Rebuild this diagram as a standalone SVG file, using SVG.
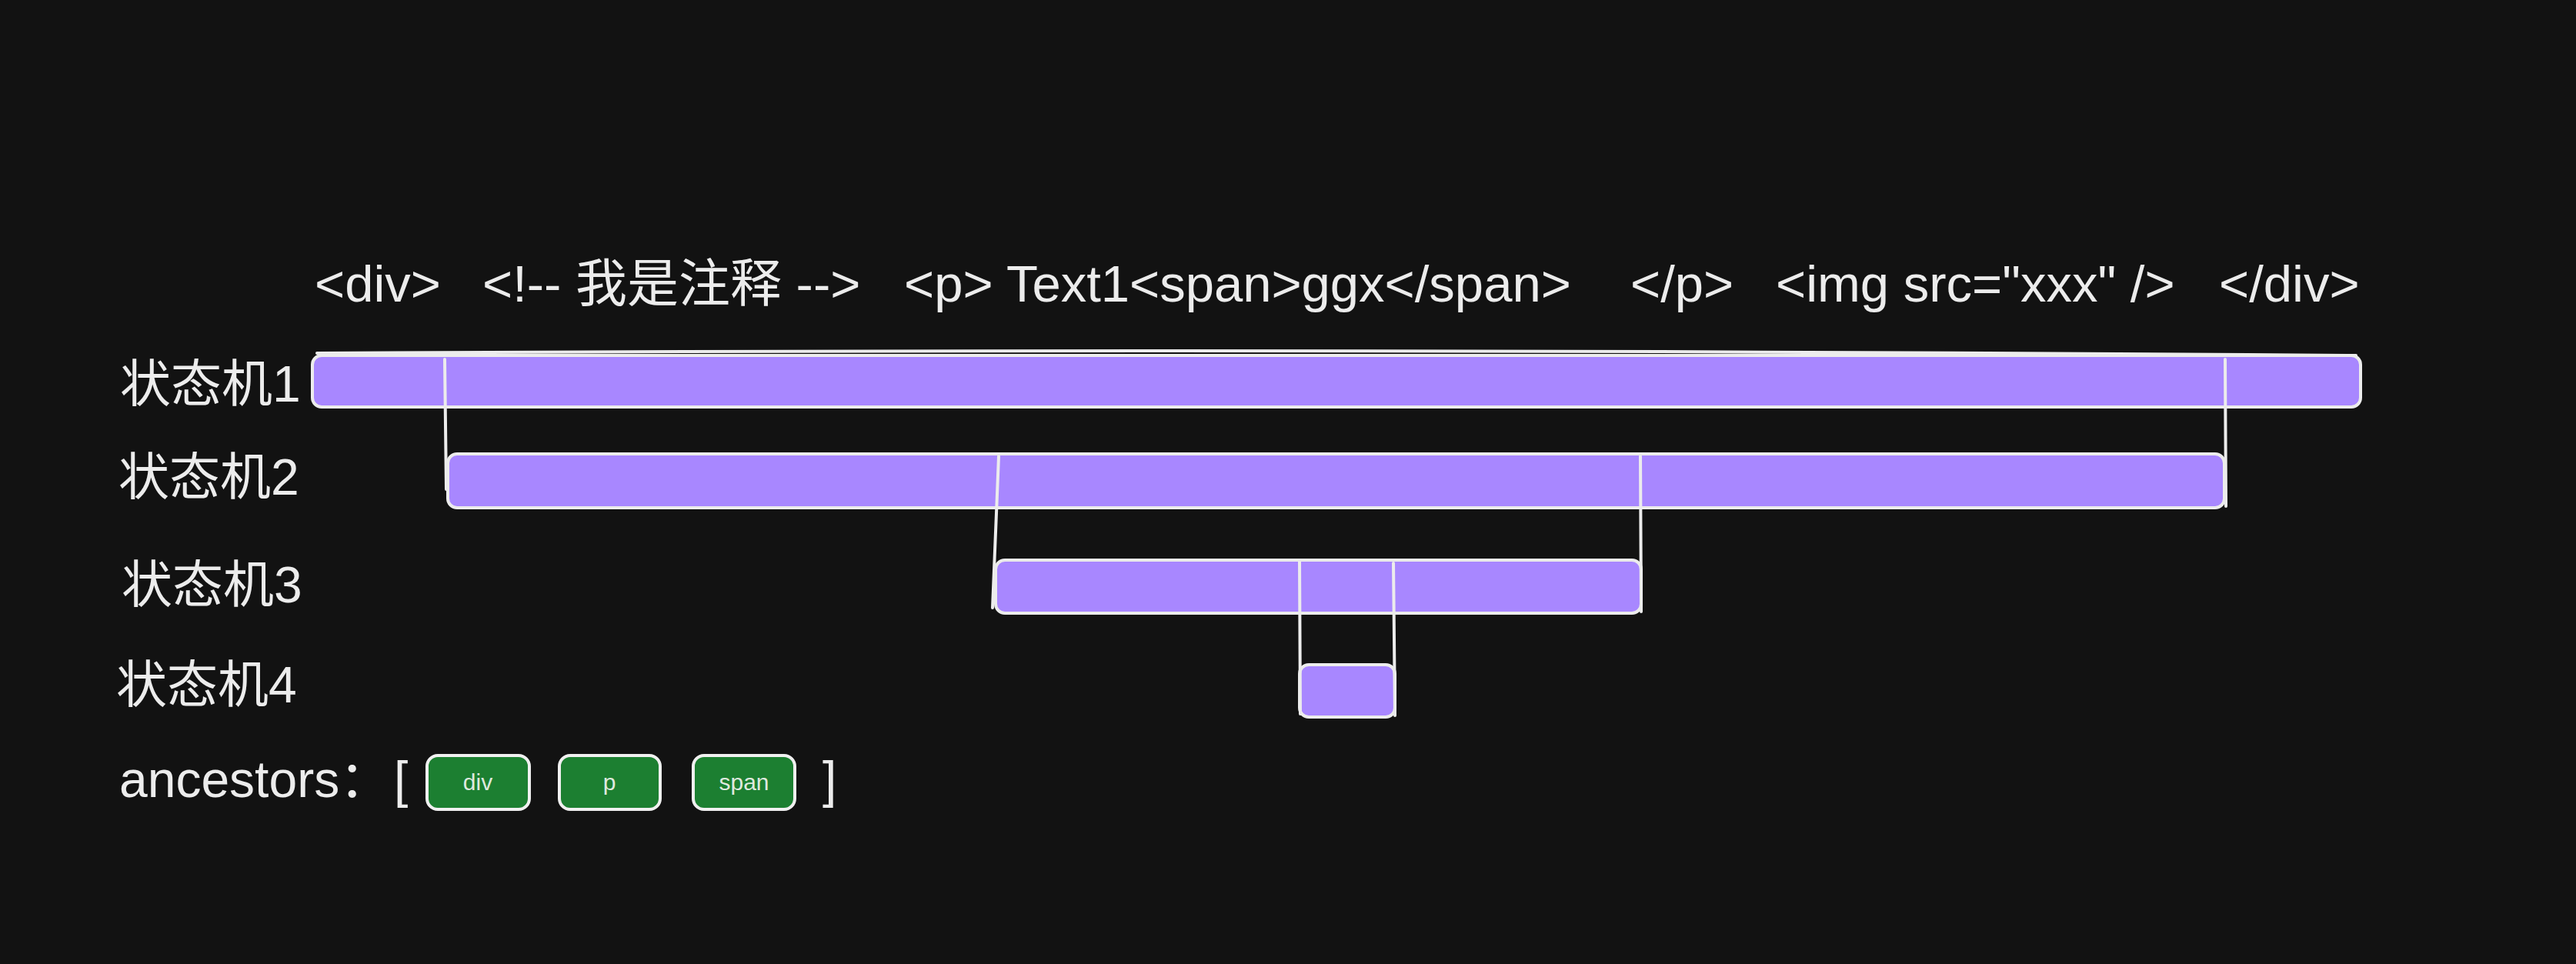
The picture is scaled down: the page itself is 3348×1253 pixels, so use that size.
<svg xmlns="http://www.w3.org/2000/svg" width="3348" height="1253" viewBox="0 0 3348 1253">
<style>
.t{font-family:"Liberation Sans","Noto Sans CJK SC",sans-serif;font-size:66px;fill:#ececec}
.src{font-size:67px}
.bar{fill:#a887ff;stroke:#ececec;stroke-width:4}
.tag{fill:#1c7f31;stroke:#f0f0f0;stroke-width:4}
.tt{font-family:"Liberation Sans",sans-serif;font-size:30px;fill:#dfe9df;text-anchor:middle}
.ln{stroke:#ececec;stroke-width:4;fill:none;stroke-linecap:round}
</style>
<rect width="3348" height="1253" fill="#121212"/>
<g id="source">
<text class="t src" y="392"><tspan x="409">&lt;div&gt;</tspan><tspan x="627">&lt;!-- 我是注释 --&gt;</tspan><tspan x="1175">&lt;p&gt; Text1&lt;span&gt;ggx&lt;/span&gt;</tspan><tspan x="2119">&lt;/p&gt;</tspan><tspan x="2308">&lt;img src="xxx" /&gt;</tspan><tspan x="2884">&lt;/div&gt;</tspan></text>
</g>
<g id="labels">
<text class="t" x="156" y="522">状态机1</text>
<text class="t" x="154" y="643">状态机2</text>
<text class="t" x="158" y="783">状态机3</text>
<text class="t" x="151" y="913">状态机4</text>
</g>
<g id="sm1"><rect class="bar" x="406" y="462" width="2662" height="67" rx="12"/><path class="ln" d="M412 459 Q1700 452 3062 462" stroke-width="3"/></g>
<g id="sm2"><rect class="bar" x="582" y="590" width="2309" height="70" rx="12"/></g>
<g id="sm3"><rect class="bar" x="1294" y="728" width="839" height="69" rx="12"/></g>
<g id="sm4"><rect class="bar" x="1689" y="864" width="124" height="68" rx="12"/></g>
<g id="connectors">
<path class="ln" d="M578 467 L580 636"/>
<path class="ln" d="M2892 467 L2893 658"/>
<path class="ln" d="M1298 593 L1290 790"/>
<path class="ln" d="M2132 593 L2133 795"/>
<path class="ln" d="M1689 730 L1690 928"/>
<path class="ln" d="M1811 732 L1813 930"/>
</g>
<g id="ancestors">
<text class="t" x="155" y="1036">ancestors：</text>
<text class="t" x="512" y="1036">[</text>
<text class="t" x="1069" y="1036">]</text>
</g>
<g id="tag-div"><rect class="tag" x="555" y="982" width="133" height="70" rx="14"/><text class="tt" x="621" y="1027">div</text></g>
<g id="tag-p"><rect class="tag" x="727" y="982" width="131" height="70" rx="14"/><text class="tt" x="792" y="1027">p</text></g>
<g id="tag-span"><rect class="tag" x="901" y="982" width="132" height="70" rx="14"/><text class="tt" x="967" y="1027">span</text></g>
</svg>
